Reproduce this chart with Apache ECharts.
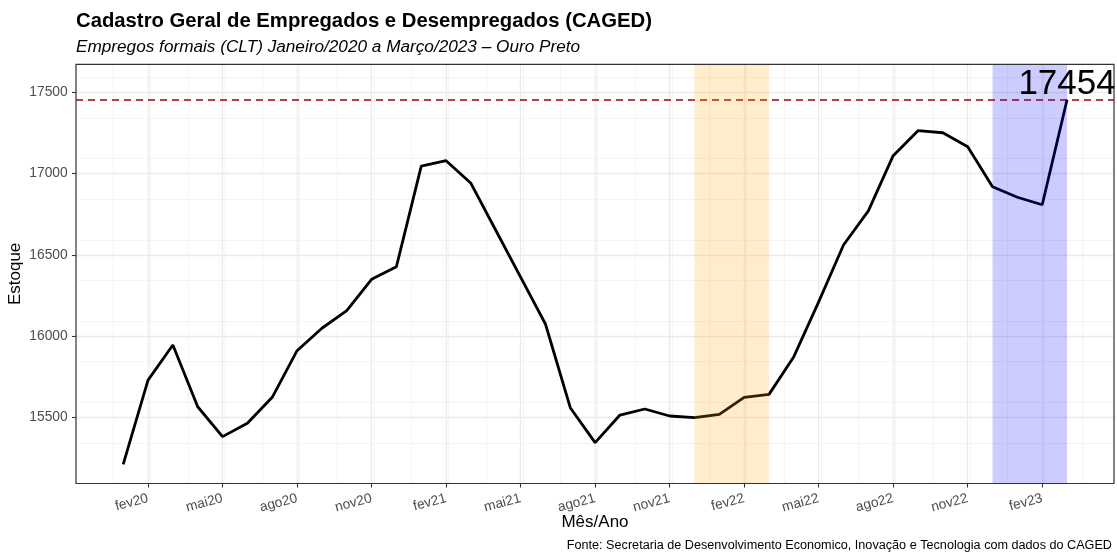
<!DOCTYPE html>
<html>
<head>
<meta charset="utf-8">
<title>CAGED - Ouro Preto</title>
<script src="https://cdn.jsdelivr.net/npm/echarts@6/dist/echarts.min.js"></script>
<style>
  html, body { margin: 0; padding: 0; background: #fff; }
  #chart { width: 1117px; height: 556px; }
</style>
</head>
<body>
<div id="chart"></div>
<script>
// Estoque de empregos formais (CLT) - Ouro Preto, jan/2020 a mar/2023
const meses = [
    'jan20','fev20','mar20','abr20','mai20','jun20','jul20','ago20','set20','out20','nov20','dez20',
    'jan21','fev21','mar21','abr21','mai21','jun21','jul21','ago21','set21','out21','nov21','dez21',
    'jan22','fev22','mar22','abr22','mai22','jun22','jul22','ago22','set22','out22','nov22','dez22',
    'jan23','fev23','mar23'
];
const estoque = [
    15210, 15729, 15945, 15565, 15381, 15463, 15623, 15910, 16048, 16156, 16349, 16427,
    17046, 17079, 16940, 16651, 16363, 16074, 15559, 15344, 15514, 15551, 15508, 15498,
    15518, 15623, 15641, 15873, 16210, 16560, 16770, 17110, 17264, 17251, 17165, 16919,
    16854, 16808, 17454
];
const rotulosX = ['fev20','mai20','ago20','nov20','fev21','mai21','ago21','nov21','fev22','mai22','ago22','nov22','fev23'];
const marcasY = [15500, 16000, 16500, 17000, 17500];
// faixas destacadas (dez -> mar)
const faixaInicio = ['dez21', 'dez22'];
const faixaFim = ['mar22', 'mar23'];
const faixaCor = ['rgba(255,165,0,0.2)', 'rgba(0,0,255,0.2)'];

// eixo x em meses; desloca 2 para que fev20 caia num múltiplo de 3
const DESLOC = 2;
const X_MIN = 0.10, X_MAX = 41.89;
const Y_MIN = 15092.6, Y_MAX = 17672.3;
const FONTE = "'Liberation Sans', Arial, Helvetica, sans-serif";
const G = { left: 76, top: 64.3, width: 1038, height: 419.2 };

const pontos = estoque.map((v, i) => [i + DESLOC, v]);
const marcasX = rotulosX.map(r => meses.indexOf(r) + DESLOC);
const ultimo = estoque[estoque.length - 1];
const faixas = faixaInicio.map((ini, k) => [meses.indexOf(ini) + DESLOC, meses.indexOf(faixaFim[k]) + DESLOC, k]);

const chart = echarts.init(document.getElementById('chart'));
chart.setOption({
    animation: false,
    backgroundColor: '#fff',
    textStyle: { fontFamily: FONTE },
    title: [
        { text: 'Cadastro Geral de Empregados e Desempregados (CAGED)', left: 76, top: 11.2, padding: 0,
          textStyle: { fontFamily: FONTE, fontSize: 20.3, fontWeight: 'bold', color: '#000' } },
        { text: 'Empregos formais (CLT) Janeiro/2020 a Março/2023 – Ouro Preto', left: 76, top: 39.2, padding: 0,
          textStyle: { fontFamily: FONTE, fontSize: 17.2, fontStyle: 'italic', fontWeight: 'normal', color: '#000' } },
        { text: 'Fonte: Secretaria de Desenvolvimento Economico, Inovação e Tecnologia com dados do CAGED', right: 5, top: 539.5, padding: 0,
          textStyle: { fontFamily: FONTE, fontSize: 12.65, fontWeight: 'normal', color: '#000' } }
    ],
    grid: { left: G.left, top: G.top, width: G.width, height: G.height, containLabel: false, outerBoundsMode: 'none' },
    xAxis: [
        { type: 'value', min: X_MIN, max: X_MAX, interval: 3, z: 1,
          name: 'Mês/Ano', nameLocation: 'middle', nameGap: 30, nameMoveOverlap: false,
          nameTextStyle: { fontFamily: FONTE, fontSize: 17, color: '#000' },
          axisLine: { show: false },
          axisTick: { show: true, customValues: marcasX, length: 4, lineStyle: { color: '#333', width: 1.1 } },
          axisLabel: { customValues: marcasX, rotate: 15, margin: 14.5, fontSize: 13.8, color: '#4D4D4D', fontFamily: FONTE,
                       formatter: v => meses[Math.round(v) - DESLOC] || '' },
          splitLine: { show: true, lineStyle: { color: '#EBEBEB', width: 1.4 } } },
        { type: 'value', min: X_MIN, max: X_MAX, interval: 1.5, z: 0, position: 'bottom',
          axisLine: { show: false }, axisTick: { show: false }, axisLabel: { show: false },
          splitLine: { show: true, lineStyle: { color: '#F3F3F3', width: 0.9 } } }
    ],
    yAxis: [
        { type: 'value', min: Y_MIN, max: Y_MAX, interval: 500, z: 1,
          name: 'Estoque', nameLocation: 'middle', nameGap: 52, nameMoveOverlap: false,
          nameTextStyle: { fontFamily: FONTE, fontSize: 17, color: '#000' },
          axisLine: { show: false },
          axisTick: { show: true, customValues: marcasY, length: 4, lineStyle: { color: '#333', width: 1.1 } },
          axisLabel: { customValues: marcasY, margin: 8.3, fontSize: 13.8, color: '#4D4D4D', fontFamily: FONTE,
                       formatter: v => String(v) },
          splitLine: { show: true, lineStyle: { color: '#EBEBEB', width: 1.4 } } },
        { type: 'value', min: Y_MIN, max: Y_MAX, interval: 250, z: 0, position: 'left',
          axisLine: { show: false }, axisTick: { show: false }, axisLabel: { show: false },
          splitLine: { show: true, lineStyle: { color: '#F3F3F3', width: 0.9 } } }
    ],
    graphic: [
        { type: 'rect', z: 100, silent: true,
          shape: { x: G.left, y: G.top, width: G.width, height: G.height },
          style: { fill: 'none', stroke: '#333', lineWidth: 1.2 } }
    ],
    series: [
        { type: 'line', data: pontos, xAxisIndex: 0, yAxisIndex: 0, symbol: 'none', z: 3,
          lineStyle: { color: '#000', width: 2.8 },
          markLine: { silent: true, symbol: ['none', 'none'], z: 2, label: { show: false },
                      lineStyle: { color: '#A00000', type: [7, 5], width: 1.5 },
                      data: [{ yAxis: ultimo }] } },
        { type: 'custom', data: faixas, xAxisIndex: 0, yAxisIndex: 0, z: 4, silent: true, clip: true,
          renderItem: (params, api) => {
              const a = api.coord([api.value(0), Y_MAX]);
              const b = api.coord([api.value(1), Y_MIN]);
              return { type: 'rect', shape: { x: a[0], y: a[1], width: b[0] - a[0], height: b[1] - a[1] },
                       style: { fill: faixaCor[api.value(2)] } };
          } },
        { type: 'scatter', data: [[meses.length - 1 + DESLOC, ultimo]], xAxisIndex: 0, yAxisIndex: 0,
          symbolSize: 0.1, itemStyle: { color: 'transparent', opacity: 1 }, z: 5, silent: true,
          emphasis: { disabled: true },
          label: { show: true, position: 'inside', offset: [0, -15.5], formatter: String(ultimo),
                   fontSize: 35, fontFamily: FONTE, color: '#000', opacity: 1, textBorderWidth: 0,
                   align: 'center', verticalAlign: 'middle' } }
    ]
});
</script>
</body>
</html>
